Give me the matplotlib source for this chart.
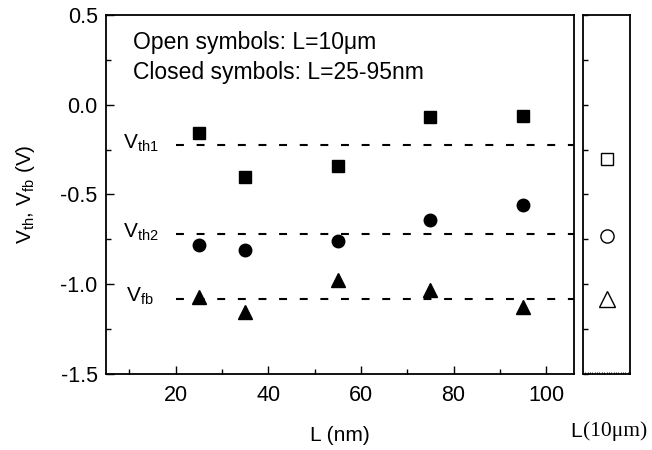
import numpy as np
import matplotlib
matplotlib.use("Agg")
import matplotlib.pyplot as plt
from matplotlib.ticker import MultipleLocator

plt.rcParams['font.family'] = ['Liberation Sans', 'DejaVu Sans']
plt.rcParams['mathtext.default'] = 'regular'

# datos
L_nm = [25, 35, 55, 75, 95]
vth1 = [-0.16, -0.40, -0.34, -0.07, -0.06]
vth2 = [-0.78, -0.81, -0.76, -0.64, -0.56]
vfb = [-1.07, -1.155, -0.975, -1.03, -1.125]

# L = 10 um (simbolos abiertos)
vth1_largo = -0.30
vth2_largo = -0.73
vfb_largo = -1.08

# niveles de referencia (lineas discontinuas)
niveles = [-0.225, -0.72, -1.08]
etiquetas = ['V$_{th1}$', 'V$_{th2}$', 'V$_{fb}$']
x_etiquetas = [8.7, 8.7, 9.4]

fig = plt.figure(figsize=(6.52, 4.5), dpi=100)
ax = fig.add_axes([0.1626, 0.1689, 0.7178, 0.7978])
ax2 = fig.add_axes([0.8942, 0.1689, 0.0721, 0.7978])

for nivel, etq, xe in zip(niveles, etiquetas, x_etiquetas):
    ax.plot([20, 106], [nivel, nivel], color='black', lw=1.5,
            linestyle=(0, (3.8, 6.1)))
    ax.text(xe, nivel + 0.01, etq, fontsize=15, ha='left', va='center')

ax.plot(L_nm, vth1, 's', color='black', ms=8)
ax.plot(L_nm, vth2, 'o', color='black', ms=9)
ax.plot(L_nm, vfb, '^', color='black', ms=10)

ax.text(10.8, 0.345, 'Open symbols: L=10\u03bcm', fontsize=16.5, va='center')
ax.text(10.8, 0.18, 'Closed symbols: L=25-95nm', fontsize=16.5, va='center')

ax.set_xlim(5, 106)
ax.set_ylim(-1.5, 0.5)
ax.xaxis.set_major_locator(MultipleLocator(20))
ax.xaxis.set_minor_locator(MultipleLocator(10))
ax.yaxis.set_minor_locator(MultipleLocator(0.25))
ax.set_yticks([0.5, 0.0, -0.5, -1.0, -1.5])
ax.set_yticklabels(['0.5', '0.0', '-0.5', '-1.0', '-1.5'])
ax.tick_params(which='both', direction='in', top=False, right=False,
               labelsize=15.5, width=1)
ax.tick_params(which='major', length=6)
ax.tick_params(axis='x', which='major', pad=8)
ax.tick_params(axis='y', which='major', pad=6)
ax.tick_params(which='minor', length=3.5)
for s in ax.spines.values():
    s.set_linewidth(1.3)

ax.set_xlabel('L (nm)', fontsize=15, labelpad=14)
ax.set_ylabel('V$_{th}$, V$_{fb}$ (V)', fontsize=15, labelpad=17)

# panel derecho: L = 10 um
ax2.plot([0.5], [vth1_largo], 's', mfc='white', mec='black', ms=8.5, mew=1)
ax2.plot([0.5], [vth2_largo], 'o', mfc='white', mec='black', ms=9.5, mew=1)
ax2.plot([0.5], [vfb_largo], '^', mfc='white', mec='black', ms=11, mew=1)
ax2.set_xlim(0, 1)
ax2.set_ylim(-1.5, 0.5)
ax2.yaxis.set_major_locator(MultipleLocator(0.25))
ax2.xaxis.set_major_locator(MultipleLocator(0.05))
ax2.tick_params(axis='y', direction='in', length=3.5, labelleft=False, width=1)
ax2.tick_params(axis='x', direction='in', length=1.5, labelbottom=False, width=0.6)
for s in ax2.spines.values():
    s.set_linewidth(1.3)

fig.text(0.874, 0.042, 'L', fontsize=15, ha='left', va='center')
fig.text(0.894, 0.042, '(10\u03bcm)', fontsize=15.5, ha='left', va='center',
         family=['Liberation Serif', 'DejaVu Serif'])

fig.savefig('out.png', dpi=100)
